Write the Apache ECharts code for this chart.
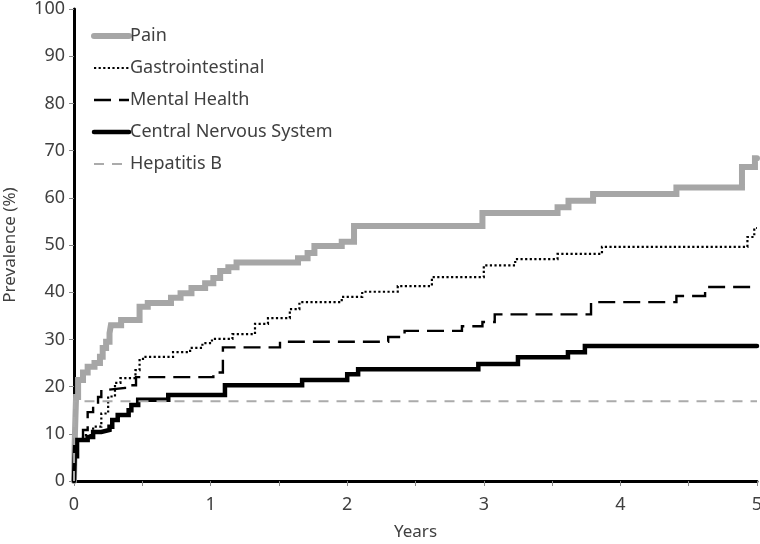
<!DOCTYPE html>
<html><head><meta charset="utf-8">
<script src="https://cdn.jsdelivr.net/npm/echarts@6/dist/echarts.min.js"></script>
<style>html,body{margin:0;padding:0;background:#fff}#c{width:760px;height:544px}</style>
</head><body><div id="c"></div>
<script>
const seriesNames = ["Pain", "Gastrointestinal", "Mental Health", "Central Nervous System", "Hepatitis B"];
const yTicks = [0,10,20,30,40,50,60,70,80,90,100];
const xTicks = [0,1,2,3,4,5];
// [years, prevalence %] step points (value holds until next point)
const pain = [[0,0],[0.005,8],[0.01,13],[0.015,17.8],[0.03,21.4],[0.066,23],[0.10,24.2],[0.15,25],[0.19,26.3],[0.21,28.2],[0.235,29.5],[0.26,31.3],[0.27,33],[0.345,34.1],[0.48,36.9],[0.54,37.7],[0.71,38.8],[0.78,39.8],[0.86,40.9],[0.96,41.9],[1.02,43.0],[1.07,44.5],[1.13,45.3],[1.19,46.3],[1.64,47.2],[1.71,48.3],[1.76,49.8],[1.96,50.7],[2.05,54.0],[2.99,56.8],[3.54,58.0],[3.62,59.4],[3.80,60.8],[4.41,62.2],[4.89,66.5],[4.985,68.4],[5,68.4]];
const gastro = [[0,0],[0.005,5],[0.01,8.7],[0.066,9.7],[0.14,11.5],[0.20,14.3],[0.25,17.9],[0.30,20.8],[0.34,21.8],[0.45,23.5],[0.48,25.6],[0.505,26.3],[0.725,27.3],[0.85,28.2],[0.94,29.2],[1.01,30.1],[1.16,31.1],[1.325,33.3],[1.42,34.5],[1.58,36.4],[1.65,37.9],[1.96,39.0],[2.11,40.1],[2.37,41.3],[2.62,43.2],[3.0,45.7],[3.23,47.0],[3.54,48.1],[3.865,49.6],[4.93,51.7],[4.98,53.6],[5,53.6]];
const mental = [[0,0],[0.01,5],[0.03,9],[0.066,10.8],[0.10,14.6],[0.14,16.1],[0.176,17.8],[0.20,19.3],[0.234,19.7],[0.373,20.3],[0.454,22.0],[1.02,23.0],[1.09,28.3],[1.508,29.5],[2.30,30.5],[2.42,31.8],[2.84,32.8],[2.99,33.7],[3.08,35.3],[3.785,37.9],[4.41,39.2],[4.62,41.1],[5,41.1]];
const cns = [[0,0],[0.005,5],[0.01,8.7],[0.10,9.3],[0.14,10.4],[0.20,10.8],[0.26,11.5],[0.28,12.9],[0.32,14.0],[0.40,15.0],[0.42,16.1],[0.47,17.2],[0.69,18.2],[1.105,20.3],[1.67,21.4],[2.0,22.6],[2.08,23.7],[2.96,24.8],[3.25,26.2],[3.616,27.3],[3.74,28.6],[5,28.6]];
const hepb = [[0,0],[0.002,16.9],[5,16.9]];

const font = '"Noto Sans",sans-serif';
const styles = {
  'Pain': {color:'#a6a6a6', width:6, type:'solid', cap:'round'},
  'Gastrointestinal': {color:'#000', width:2.2, type:[2.2,2.4], cap:'butt'},
  'Mental Health': {color:'#000', width:2.4, type:[17,8], cap:'butt'},
  'Central Nervous System': {color:'#000', width:4.5, type:'solid', cap:'round'},
  'Hepatitis B': {color:'#ababab', width:2, type:[10,8], cap:'butt'}
};
const chart = echarts.init(document.getElementById('c'), null, {renderer:'canvas'});
function ser(name, data){
  const s = styles[name];
  return {name, type:'line', step:'end', data, symbol:'none', showSymbol:false,
    lineStyle:{color:s.color, width:s.width, type:s.type, cap:s.cap, join:'miter'},
    itemStyle:{color:s.color}, animation:false, z:3};
}
chart.setOption({
  animation:false,
  backgroundColor:'#fff',
  grid:{left:74, right:3, top:9, bottom:63, containLabel:false, outerBoundsMode:'none'},
  legend:{
    orient:'vertical', left:86, top:22, itemWidth:35, itemHeight:12, itemGap:14,
    itemStyle:{color:'transparent', borderWidth:0, opacity:0},
    data: seriesNames.map(n => ({name:n, lineStyle:{color:styles[n].color, width:styles[n].width, type:styles[n].type, cap:styles[n].cap}})),
    textStyle:{fontFamily:font, fontSize:18, color:'#404040', padding:[0,0,0,-4]}
  },
  xAxis:[{
    type:'value', min:0, max:5, interval:1,
    name:'Years', nameLocation:'middle', nameGap:43,
    nameTextStyle:{fontFamily:font, fontSize:17, color:'#404040'},
    axisLine:{show:true, lineStyle:{color:'#898989', width:2}},
    axisTick:{show:true, length:5, lineStyle:{color:'#898989', width:1}},
    minorTick:{show:true, splitNumber:2, length:5, lineStyle:{color:'#898989', width:1}},
    axisLabel:{fontFamily:font, fontSize:18, color:'#404040', margin:15, formatter:v=>xTicks.includes(v)?String(v):''},
    splitLine:{show:false}
  },{
    type:'value', min:0, max:5, position:'top',
    axisLine:{show:true, lineStyle:{color:'#000', width:3}},
    axisTick:{show:false}, axisLabel:{show:false}, splitLine:{show:false}
  }],
  yAxis:[{
    type:'value', min:0, max:100, interval:10,
    name:'Prevalence (%)', nameLocation:'middle', nameGap:55,
    nameTextStyle:{fontFamily:font, fontSize:17, color:'#404040'},
    axisLine:{show:true, lineStyle:{color:'#898989', width:2}},
    axisTick:{show:true, length:5, lineStyle:{color:'#898989', width:1}},
    axisLabel:{fontFamily:font, fontSize:18, color:'#404040', margin:9, formatter:v=>yTicks.includes(v)?String(v):''},
    splitLine:{show:false}
  },{
    type:'value', min:0, max:100, position:'right',
    axisLine:{show:true, lineStyle:{color:'#000', width:3}},
    axisTick:{show:false}, axisLabel:{show:false}, splitLine:{show:false}
  }],
  series: [ser('Pain', pain), ser('Gastrointestinal', gastro), ser('Mental Health', mental), ser('Central Nervous System', cns), ser('Hepatitis B', hepb)]
});
</script></body></html>
